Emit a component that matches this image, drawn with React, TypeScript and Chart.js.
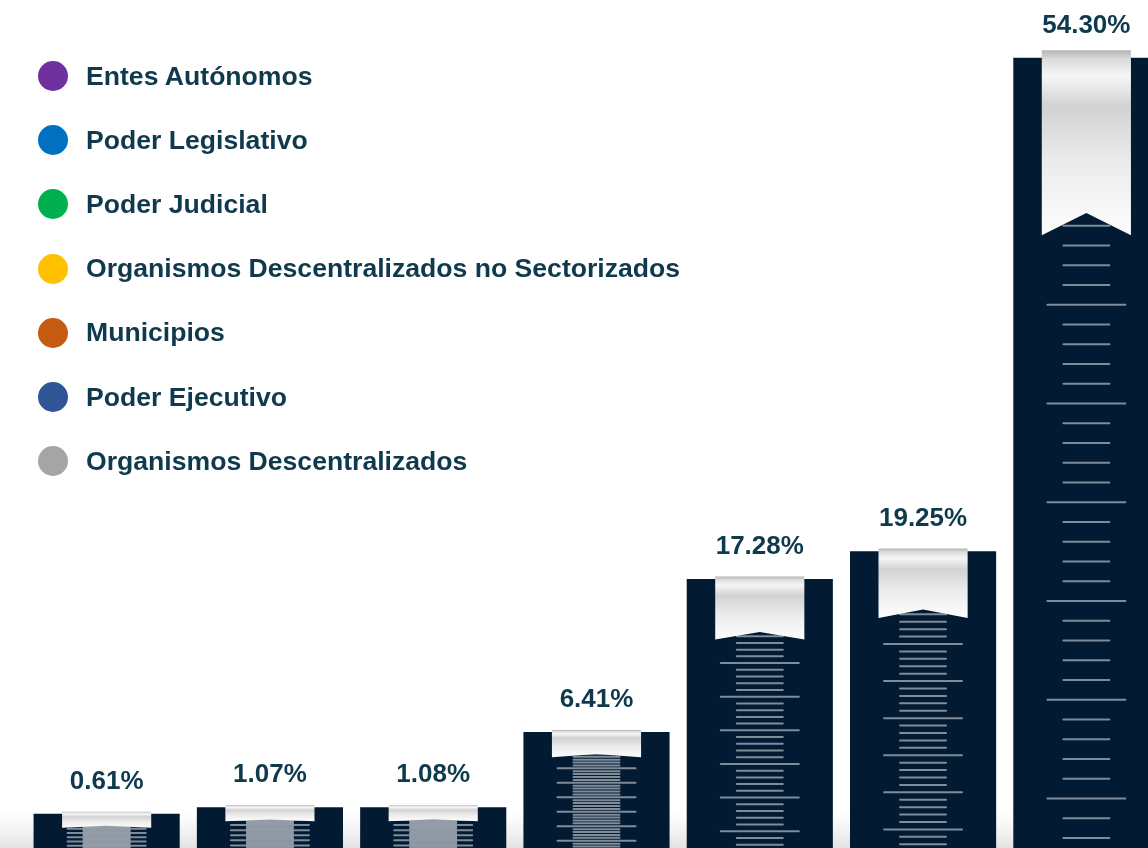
import React, { useEffect, useRef } from "react";
import { Chart, registerables } from "chart.js";

Chart.register(...registerables);

const categories = [
  "Entes Autónomos",
  "Poder Legislativo",
  "Poder Judicial",
  "Organismos Descentralizados no Sectorizados",
  "Municipios",
  "Poder Ejecutivo",
  "Organismos Descentralizados",
];
const values = [0.61, 1.07, 1.08, 6.41, 17.28, 19.25, 54.3];
const valueLabels = ["0.61%", "1.07%", "1.08%", "6.41%", "17.28%", "19.25%", "54.30%"];
const legendColors = ["#7030A0", "#0070C0", "#00B050", "#FFC000", "#C55A11", "#2F5597", "#A5A5A5"];

const Y_MIN = -1.82;
const Y_MAX = 58.4;
const TEXT_COLOR = "#0f3a4d";
const FONT = '"Liberation Sans", Arial, Helvetica, sans-serif';

const decorPlugin = {
  id: "decor",
  beforeDatasetsDraw(chart: any) {
    const { ctx } = chart;
    const h = chart.height;
    ctx.save();
    const g = ctx.createLinearGradient(0, h - 36, 0, h);
    g.addColorStop(0, "rgba(236,236,236,0)");
    g.addColorStop(1, "rgba(226,226,226,1)");
    ctx.fillStyle = g;
    ctx.fillRect(0, h - 36, chart.width, 36);
    ctx.restore();
  },
  afterDatasetsDraw(chart: any) {
    const { ctx, chartArea } = chart;
    const meta = chart.getDatasetMeta(0);
    const bottom = chartArea.bottom;
    meta.data.forEach((bar: any, i: number) => {
      const { x, y, width } = bar.getProps(["x", "y", "width"], true);
      const H = bottom - y;
      ctx.save();
      ctx.beginPath();
      ctx.rect(x - width / 2, y, width, H);
      ctx.clip();
      // ruler lines
      const seg = H / 8;
      const sub = seg / 5;
      ctx.strokeStyle = "rgba(150,160,170,0.85)";
      ctx.lineWidth = 2;
      ctx.lineCap = "round";
      for (let k = -5; k < 50; k++) {
        const yy = y + seg * 0.5 + sub * k;
        if (yy < y + 1 || yy > bottom) continue;
        const long = k % 5 === 0;
        const half = long ? 39 : 23;
        ctx.beginPath();
        ctx.moveTo(x - half, yy);
        ctx.lineTo(x + half, yy);
        ctx.stroke();
      }
      ctx.restore();

      // ribbon
      const rw = width * 0.61;
      const rh = Math.max(16, H * 0.234);
      const top = y - Math.max(2, rh * 0.04);
      const notch = rh * 0.12;
      ctx.save();
      const g = ctx.createLinearGradient(0, top, 0, top + rh);
      g.addColorStop(0, "#b4b4b4");
      g.addColorStop(0.05, "#dcdcdc");
      g.addColorStop(0.14, "#f6f6f6");
      g.addColorStop(0.3, "#d2d2d2");
      g.addColorStop(0.6, "#ebebeb");
      g.addColorStop(1, "#fdfdfd");
      ctx.fillStyle = g;
      ctx.beginPath();
      ctx.moveTo(x - rw / 2, top);
      ctx.lineTo(x + rw / 2, top);
      ctx.lineTo(x + rw / 2, top + rh);
      ctx.lineTo(x, top + rh - notch);
      ctx.lineTo(x - rw / 2, top + rh);
      ctx.closePath();
      ctx.fill();
      ctx.restore();

      // value label
      ctx.save();
      ctx.font = `bold 26px ${FONT}`;
      ctx.fillStyle = TEXT_COLOR;
      ctx.textAlign = "center";
      ctx.textBaseline = "middle";
      ctx.fillText(valueLabels[i], x, y - 32);
      ctx.restore();
    });
  },
};

export default function App() {
  const canvasRef = useRef<HTMLCanvasElement | null>(null);

  useEffect(() => {
    if (!canvasRef.current) return;
    const chart = new Chart(canvasRef.current, {
      type: "bar",
      data: {
        labels: categories,
        datasets: [
          {
            data: values,
            backgroundColor: "#021B33",
            base: Y_MIN,
            barPercentage: 0.895,
            categoryPercentage: 1,
            borderWidth: 0,
          } as any,
        ],
      },
      options: {
        responsive: false,
        animation: false,
        devicePixelRatio: 1,
        layout: { padding: { left: 25, right: 0, top: 0, bottom: 0 } },
        plugins: { legend: { display: false }, tooltip: { enabled: false } },
        scales: {
          x: { display: false, offset: true },
          y: { display: false, min: Y_MIN, max: Y_MAX },
        },
      },
      plugins: [decorPlugin],
    });
    return () => chart.destroy();
  }, []);

  return (
    <div
      style={{
        position: "fixed",
        left: 0,
        top: 0,
        width: 1148,
        height: 848,
        overflow: "hidden",
        background: "#ffffff",
      }}
    >
      <canvas ref={canvasRef} width={1168} height={848} style={{ display: "block" }} />
      {categories.map((c, i) => {
        const cy = 76 + i * 64.2;
        return (
          <div
            key={c}
            style={{
              position: "absolute",
              left: 38,
              top: cy - 20,
              height: 40,
              display: "flex",
              alignItems: "center",
              whiteSpace: "nowrap",
            }}
          >
            <span
              style={{
                width: 30,
                height: 30,
                borderRadius: "50%",
                background: legendColors[i],
                display: "inline-block",
                marginRight: 18,
                flex: "none",
              }}
            />
            <span
              style={{
                fontFamily: FONT,
                fontWeight: "bold",
                fontSize: 26.6,
                color: TEXT_COLOR,
              }}
            >
              {c}
            </span>
          </div>
        );
      })}
    </div>
  );
}
